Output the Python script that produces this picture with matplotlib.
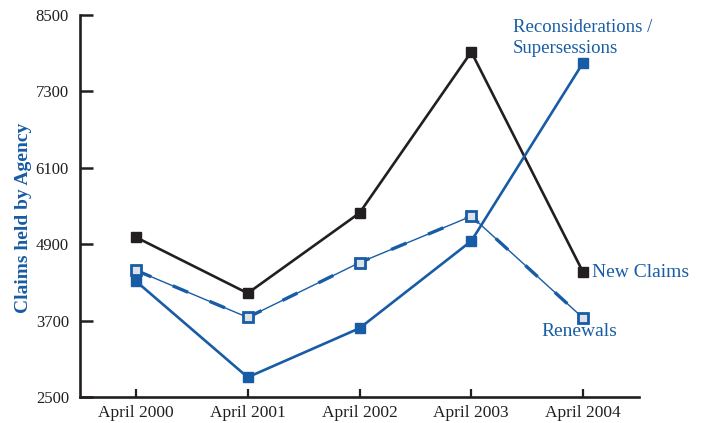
import matplotlib
matplotlib.use("Agg")
import matplotlib.pyplot as plt

# Claims held by the agency, April snapshots
years = ["April 2000", "April 2001", "April 2002", "April 2003", "April 2004"]
new_claims = [5010, 4130, 5390, 7920, 4460]
renewals = [4490, 3750, 4610, 5340, 3740]
reconsiderations = [4320, 2810, 3580, 4950, 7750]
y_ticks = [2500, 3700, 4900, 6100, 7300, 8500]

BLUE = "#175ca4"
BLACK = "#231f20"
FONT = "Liberation Serif"

fig = plt.figure(figsize=(7.02, 4.23), dpi=100)
ax = fig.add_axes([80 / 702, 1 - 397 / 423, (639 - 80) / 702, (397 - 15) / 423])

x = list(range(len(years)))

ax.plot(x, new_claims, color=BLACK, lw=1.9, marker="s", ms=6.5,
        mfc=BLACK, mec=BLACK, zorder=3)

# Renewals: thin line with heavier dash accents
ax.plot(x, renewals, color=BLUE, lw=1.0, zorder=2)
ax.plot(x, renewals, color=BLUE, lw=2.4, dashes=(5, 7), zorder=2)
ax.plot(x, renewals, ls="none", marker="s", ms=7, mfc="#dde2e8",
        mec=BLUE, mew=2.0, zorder=4)

ax.plot(x, reconsiderations, color=BLUE, lw=1.9, marker="s", ms=6.5,
        mfc=BLUE, mec=BLUE, zorder=3)

ax.set_xlim(-0.5, 4.5)
ax.set_ylim(2500, 8500)
ax.set_xticks(x)
ax.set_xticklabels(years, fontfamily=FONT, fontsize=12.5, color="#231f20")
ax.set_yticks(y_ticks)
ax.set_yticklabels([str(v) for v in y_ticks], fontfamily=FONT, fontsize=12,
                   color="#231f20")

ax.tick_params(axis="y", direction="in", length=9, width=1.8, color=BLACK, pad=8)
ax.tick_params(axis="x", direction="in", length=6, width=1.6, color=BLACK, pad=6)

for side in ("top", "right"):
    ax.spines[side].set_visible(False)
for side in ("left", "bottom"):
    ax.spines[side].set_linewidth(1.9)
    ax.spines[side].set_color(BLACK)

ax.set_ylabel("Claims held by Agency", fontfamily=FONT, fontsize=14,
              fontweight="bold", color=BLUE)
ax.yaxis.set_label_coords(-0.086, 0.469)

ax.text(4.0 - (583 - 513) / 111.75, 8440, "Reconsiderations /\nSupersessions",
        fontfamily=FONT, fontsize=13.5, color=BLUE, ha="left", va="top",
        linespacing=1.3)
ax.text(4.08, new_claims[4], "New Claims", fontfamily=FONT, fontsize=14,
        color=BLUE, ha="left", va="center")
ax.text(3.97, 3530, "Renewals", fontfamily=FONT, fontsize=14,
        color=BLUE, ha="center", va="center")

fig.savefig("out.png", dpi=100)
